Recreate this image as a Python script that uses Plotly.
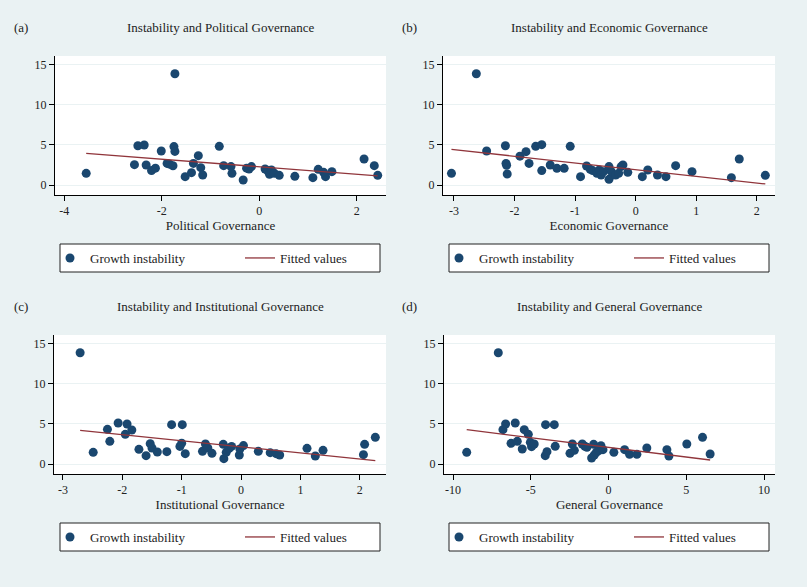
import plotly.graph_objects as go

# --- values ---
pol_x = [-3.55, -2.49, -2.36, -2.56, -2.32, -2.21, -2.13, -2.01, -1.89, -1.84, -1.77, -1.75, -1.73, -1.73,
         -1.52, -1.39, -1.35, -1.25, -1.20, -1.16, -0.82, -0.73, -0.58, -0.56, -0.33, -0.26, -0.21, -0.16,
         0.12, 0.17, 0.21, 0.25, 0.31, 0.41, 0.73, 1.10, 1.21, 1.32, 1.36, 1.49, 2.15, 2.36, 2.43]
pol_y = [1.46, 4.9, 5.0, 2.54, 2.5, 1.8, 2.1, 4.25, 2.7, 2.6, 2.4, 4.8, 4.2, 13.9,
         1.04, 1.54, 2.7, 3.67, 2.17, 1.25, 4.83, 2.42, 2.3, 1.46, 0.63, 2.1, 2.0, 2.3,
         2.0, 1.8, 1.33, 1.88, 1.46, 1.21, 1.08, 0.92, 1.96, 1.58, 1.04, 1.67, 3.25, 2.42, 1.21]
pol_fit_x = [-3.55, 2.43]
pol_fit_y = [3.96, 1.13]

eco_x = [-3.04, -2.63, -2.46, -2.15, -2.14, -2.13, -2.12, -1.91, -1.81, -1.76, -1.65, -1.55, -1.55, -1.41,
         -1.30, -1.18, -1.08, -0.91, -0.81, -0.75, -0.71, -0.64, -0.60, -0.57, -0.53, -0.44, -0.44, -0.40,
         -0.33, -0.28, -0.24, -0.21, -0.13, 0.11, 0.20, 0.36, 0.50, 0.66, 0.93, 1.58, 1.71, 2.14]
eco_y = [1.46, 13.9, 4.25, 4.9, 2.7, 2.46, 1.38, 3.6, 4.17, 2.7, 4.83, 5.04, 1.8, 2.5,
         2.08, 2.08, 4.83, 1.04, 2.38, 1.96, 1.8, 1.46, 1.88, 1.25, 1.67, 2.3, 0.71, 1.67,
         1.25, 1.46, 2.3, 2.5, 1.58, 1.04, 1.88, 1.25, 1.04, 2.42, 1.67, 0.92, 3.25, 1.21]
eco_fit_x = [-3.04, 2.14]
eco_fit_y = [4.46, 0.13]

ins_x = [-2.71, -2.49, -2.25, -2.21, -2.07, -1.95, -1.92, -1.84, -1.72, -1.60, -1.53, -1.50, -1.41, -1.25,
         -1.17, -1.03, -1.00, -0.99, -0.94, -0.65, -0.60, -0.56, -0.49, -0.30, -0.29, -0.25, -0.20, -0.16,
         -0.03, -0.02, 0.04, 0.29, 0.49, 0.59, 0.65, 1.11, 1.25, 1.38, 2.06, 2.08, 2.26]
ins_y = [13.9, 1.46, 4.33, 2.83, 5.12, 3.71, 5.0, 4.25, 1.83, 1.04, 2.54, 2.0, 1.5, 1.54,
         4.92, 2.2, 2.6, 4.92, 1.29, 1.58, 2.5, 2.0, 1.33, 2.46, 0.67, 1.46, 1.96, 2.2,
         1.13, 1.88, 2.3, 1.58, 1.42, 1.29, 1.13, 1.96, 1.0, 1.71, 1.17, 2.46, 3.33]
ins_fit_x = [-2.71, 2.26]
ins_fit_y = [4.21, 0.42]

gen_x = [-9.12, -7.09, -6.79, -6.62, -6.27, -6.00, -5.87, -5.55, -5.42, -5.16, -5.03, -4.95, -4.78, -4.07,
         -4.05, -3.96, -3.49, -3.43, -2.48, -2.33, -2.20, -1.69, -1.52, -1.39, -1.09, -0.96, -0.92, -0.79,
         -0.62, -0.49, -0.36, 0.34, 1.03, 1.35, 1.82, 2.46, 3.75, 3.88, 5.03, 6.04, 6.53]
gen_y = [1.46, 13.9, 4.29, 5.0, 2.58, 5.12, 2.83, 1.88, 4.29, 3.71, 2.71, 2.17, 2.5, 1.04,
         4.92, 1.54, 4.92, 2.21, 1.33, 2.5, 1.71, 2.5, 2.21, 2.08, 0.75, 2.46, 1.13, 1.46,
         1.67, 2.29, 1.79, 1.46, 1.79, 1.21, 1.21, 2.0, 1.79, 1.0, 2.5, 3.33, 1.25]
gen_fit_x = [-9.12, 6.53]
gen_fit_y = [4.29, 0.50]

y_ticks = [0, 5, 10, 15]
pol_ticks = [-4, -2, 0, 2]
eco_ticks = [-3, -2, -1, 0, 1, 2]
ins_ticks = [-3, -2, -1, 0, 1, 2]
gen_ticks = [-10, -5, 0, 5, 10]

BG = "#eaf2f3"
NAVY = "#1a476f"
MAROON = "#90353b"
FONT = "Liberation Serif"
W, H = 807, 587

panels = [
    # x data, y data, fit x, fit y, ticks, x range, x title, title, label, px domain, py domain, legend box
    (pol_x, pol_y, pol_fit_x, pol_fit_y, pol_ticks, [-4.19, 2.6], "Political Governance",
     "Instability and Political Governance", "(a)", (55, 386), (56, 195), (60, 244)),
    (eco_x, eco_y, eco_fit_x, eco_fit_y, eco_ticks, [-3.18, 2.3], "Economic Governance",
     "Instability and Economic Governance", "(b)", (443, 775), (56, 195), (449, 244)),
    (ins_x, ins_y, ins_fit_x, ins_fit_y, ins_ticks, [-3.15, 2.44], "Institutional Governance",
     "Instability and Institutional Governance", "(c)", (54, 386), (335, 474), (60, 523)),
    (gen_x, gen_y, gen_fit_x, gen_fit_y, gen_ticks, [-10.58, 10.7], "General Governance",
     "Instability and General Governance", "(d)", (444, 775), (335, 474), (449, 523)),
]

fig = go.Figure()
layout = dict(
    width=W, height=H,
    margin=dict(l=0, r=0, t=0, b=0, autoexpand=False),
    paper_bgcolor=BG, plot_bgcolor="white",
    font=dict(family=FONT, size=13, color="#222"),
    showlegend=True,
    annotations=[],
    shapes=[],
)

for i, (xs, ys, fx, fy, ticks, xr, xtitle, title, label, pxd, pyd, lpos) in enumerate(panels):
    n = "" if i == 0 else str(i + 1)
    leg = "legend" + n
    fig.add_trace(go.Scatter(
        x=xs, y=ys, mode="markers", name="Growth instability",
        marker=dict(color=NAVY, size=9, line=dict(width=0)),
        xaxis="x" + n, yaxis="y" + n, legend=leg,
    ))
    fig.add_trace(go.Scatter(
        x=fx, y=fy, mode="lines", name="Fitted values",
        line=dict(color=MAROON, width=1.3),
        xaxis="x" + n, yaxis="y" + n, legend=leg,
    ))

    xdom = [pxd[0] / W, pxd[1] / W]
    ydom = [1 - pyd[1] / H, 1 - pyd[0] / H]
    axis_common = dict(
        showline=True, linecolor="black", linewidth=1,
        ticks="outside", ticklen=5, tickcolor="black", tickwidth=1,
        tickfont=dict(family=FONT, size=12, color="#222"),
        zeroline=False, automargin=False,
    )
    layout["xaxis" + n] = dict(
        axis_common, domain=xdom, range=xr, anchor="y" + n,
        tickvals=ticks, ticktext=[str(t) for t in ticks], showgrid=False,
        title=dict(text=xtitle, font=dict(family=FONT, size=13, color="#222"), standoff=3),
    )
    layout["yaxis" + n] = dict(
        axis_common, domain=ydom, range=[-1.25, 16.12], anchor="x" + n,
        tickvals=y_ticks, ticktext=[str(t) for t in y_ticks],
        showgrid=True, gridcolor=BG, gridwidth=1,
    )

    # legend frame, items placed inside it
    bx, by = lpos
    layout["shapes"].append(dict(
        type="rect", xref="paper", yref="paper",
        x0=bx / W, x1=(bx + 320) / W, y0=1 - (by + 28) / H, y1=1 - by / H,
        line=dict(color="#222", width=1), fillcolor="white", layer="below",
    ))
    layout[leg] = dict(
        x=(bx - 10) / W, y=1 - (by + 14) / H, xanchor="left", yanchor="middle",
        orientation="h", bgcolor="rgba(0,0,0,0)", borderwidth=0,
        entrywidth=145, font=dict(family=FONT, size=13, color="#222"),
    )

    cx = (pxd[0] + pxd[1]) / 2
    ty = pyd[0] - 29
    layout["annotations"].append(dict(
        text=title, x=cx / W, y=1 - ty / H, xref="paper", yref="paper",
        showarrow=False, xanchor="center", yanchor="middle",
        font=dict(family=FONT, size=13, color="#222"),
    ))
    layout["annotations"].append(dict(
        text=label, x=(12 if i % 2 == 0 else 400) / W, y=1 - ty / H, xref="paper", yref="paper",
        showarrow=False, xanchor="left", yanchor="middle",
        font=dict(family=FONT, size=13, color="#222"),
    ))

fig.update_layout(**layout)
fig.write_html("out.html", config={"displayModeBar": False},
               post_script="document.body.style.margin='0';")
